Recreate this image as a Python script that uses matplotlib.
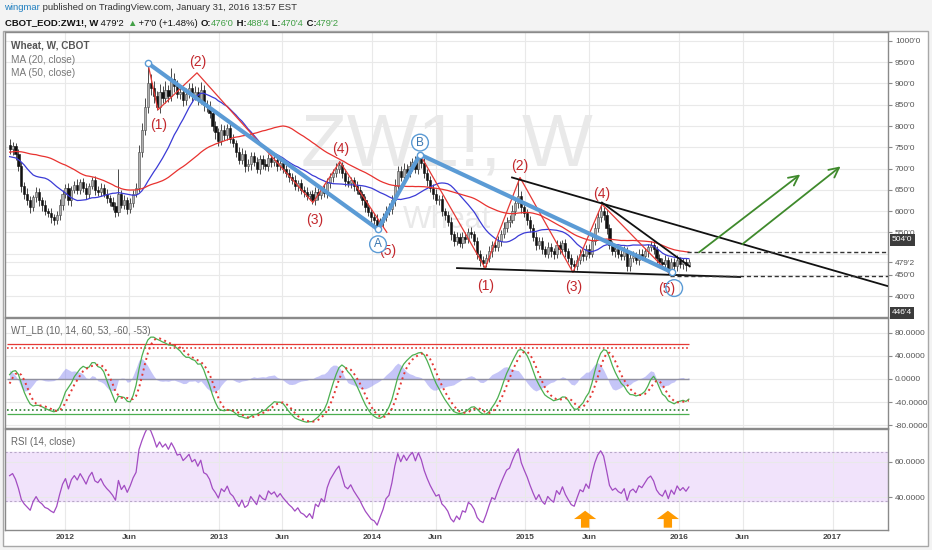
import numpy as np
import pandas as pd
import matplotlib
matplotlib.use('Agg')
import matplotlib.pyplot as plt
import matplotlib.dates as mdates
from matplotlib.patches import Rectangle

plt.rcParams['font.family'] = ['Liberation Sans', 'DejaVu Sans']

# ---- data: weekly wheat futures (CBOT ZW1!), bars dated Monday ----
first_week = '2011-08-22'
closes = [
    745, 752, 735, 705, 660, 640, 625, 610, 632, 645, 625, 615, 600, 595, 585, 578, 590, 615, 640, 655,
    625, 650, 662, 650, 668, 655, 640, 660, 672, 650, 645, 655, 640, 630, 622, 612, 598, 640, 615, 625,
    605, 620, 640, 655, 740, 790, 845, 900, 890, 870, 845, 880, 865, 885, 870, 910, 895, 875, 880, 862,
    875, 890, 870, 880, 862, 885, 850, 845, 830, 800, 785, 765, 790, 780, 795, 770, 760, 740, 720, 735,
    705, 710, 730, 715, 700, 722, 710, 705, 725, 715, 720, 705, 712, 700, 690, 680, 672, 660, 665, 650,
    645, 635, 640, 625, 645, 638, 650, 642, 665, 680, 690, 700, 708, 690, 670, 665, 672, 660, 650, 640,
    625, 610, 598, 585, 580, 565, 575, 585, 600, 605, 625, 660, 695, 680, 700, 690, 705, 715, 700, 725,
    712, 690, 672, 655, 640, 625, 628, 600, 590, 575, 545, 530, 540, 525, 540, 535, 552, 545, 530, 500,
    485, 478, 490, 505, 520, 515, 530, 545, 560, 575, 580, 600, 620, 635, 610, 595, 580, 560, 540, 520,
    530, 510, 500, 515, 505, 498, 520, 510, 525, 505, 490, 475, 470, 485, 500, 495, 510, 500, 530, 560,
    585, 600, 590, 560, 520, 505, 510, 500, 495, 505, 470, 490, 495, 485, 500, 495, 505, 515, 520, 510,
    490, 480, 475, 485, 465, 480, 470, 485, 475, 480, 472.25, 479.25,
]
wick_up = [
    15, 10, 8, 12, 10, 8, 14, 10, 6, 12, 9, 8, 10, 7, 12, 9, 11, 14, 10, 8,
    12, 10, 9, 14, 8, 10, 12, 7, 9, 11, 8, 10, 9, 12, 8, 10, 9, 58, 10, 12,
    9, 11, 10, 12, 15, 18, 20, 48, 22, 15, 12, 18, 14, 20, 12, 26, 15, 12, 16, 10,
    14, 12, 10, 15, 12, 18, 12, 10, 14, 8, 12, 10, 14, 12, 9, 10, 12, 8, 10, 14,
    9, 12, 10, 8, 12, 10, 9, 12, 10, 8, 11, 9, 10, 12, 8, 10, 9, 12, 8, 10,
    9, 11, 8, 10, 12, 9, 10, 14, 12, 10, 9, 12, 10, 8, 10, 12, 9, 8, 10, 9,
    8, 10, 9, 8, 10, 12, 9, 10, 12, 14, 12, 15, 10, 12, 14, 10, 12, 9, 14, 12,
    10, 12, 9, 10, 8, 12, 10, 9, 8, 10, 12, 9, 10, 8, 10, 12, 9, 10, 8, 10,
    9, 10, 8, 12, 10, 9, 12, 10, 14, 12, 10, 15, 14, 40, 12, 10, 9, 8, 10, 12,
    10, 9, 8, 12, 10, 9, 12, 10, 8, 10, 9, 8, 10, 12, 10, 9, 10, 12, 14, 12,
    16, 14, 10, 12, 9, 10, 8, 10, 9, 12, 10, 8, 10, 9, 12, 10, 8, 7, 10, 12,
    8, 10, 9, 12, 8, 10, 9, 12, 8, 10, 9, 9,
]
wick_dn = [
    10, 12, 15, 10, 14, 12, 10, 15, 9, 10, 12, 14, 10, 9, 12, 10, 8, 10, 12, 9,
    10, 12, 8, 10, 11, 9, 12, 10, 8, 12, 9, 10, 8, 12, 10, 9, 12, 10, 8, 10,
    12, 9, 10, 8, 10, 12, 10, 14, 18, 16, 8, 14, 12, 10, 14, 12, 15, 10, 12, 14,
    12, 10, 14, 9, 12, 10, 14, 12, 10, 12, 15, 12, 10, 14, 12, 10, 9, 12, 10, 9,
    12, 10, 14, 9, 10, 12, 11, 9, 10, 12, 8, 10, 9, 11, 10, 12, 9, 10, 12, 10,
    12, 10, 9, 8, 10, 12, 10, 9, 11, 10, 12, 9, 10, 12, 10, 9, 11, 12, 10, 9,
    10, 12, 9, 10, 12, 8, 10, 12, 9, 10, 11, 12, 10, 9, 12, 10, 9, 11, 10, 12,
    10, 12, 14, 10, 12, 9, 10, 12, 10, 11, 14, 12, 10, 9, 12, 10, 11, 9, 10, 12,
    14, 10, 9, 10, 12, 9, 10, 12, 9, 10, 12, 9, 10, 12, 14, 10, 12, 9, 10, 12,
    10, 12, 9, 10, 12, 10, 9, 11, 10, 12, 9, 10, 12, 9, 10, 12, 9, 10, 8, 10,
    9, 10, 12, 14, 10, 9, 12, 10, 9, 11, 10, 12, 9, 10, 12, 9, 10, 12, 9, 10,
    12, 9, 10, 8, 10, 9, 11, 10, 9, 10, 12, 2,
]
# earlier weekly closes (Aug 2010 - Aug 2011), only used to warm up the indicators
warmup_closes = [
    710, 700, 720, 690, 705, 715, 695, 690, 680, 720, 690, 660, 680,
    700, 735, 770, 790, 795, 780, 805, 830, 840, 860, 880, 820, 770,
    710, 740, 730, 760, 780, 765, 790, 775, 780, 800, 760, 770,
    710, 660, 640, 625, 655, 680, 700, 710, 720, 740, 755,
]

# ---- drawings on the chart ----
wave1_dates = ['2012-07-16', '2012-08-09', '2012-11-10', '2013-08-13', '2013-10-16', '2014-02-05']
wave1_prices = [948, 838, 925, 620, 716, 550]
wave1_lbl_dates = ['2012-08-11', '2012-11-13', '2013-08-17', '2013-10-19', '2014-02-06']
wave1_lbl_prices = [803, 951, 578, 745, 505]
wave2_dates = ['2014-04-25', '2014-09-27', '2014-12-19', '2015-04-24', '2015-07-02', '2015-12-11']
wave2_prices = [733, 466, 679, 456, 616, 452]
wave2_lbl_dates = ['2014-09-27', '2014-12-19', '2015-04-26', '2015-07-02', '2015-12-04']
wave2_lbl_prices = [424, 707, 421, 641, 416]
wave_labels = ['(1)', '(2)', '(3)', '(4)', '(5)']
abc_dates = ['2012-07-16', '2014-01-15', '2014-04-25', '2015-12-16']
abc_prices = [948, 557, 733, 456]
circle_labels = ['A', 'B', '']
circle_dates = ['2014-01-15', '2014-04-25', '2015-12-21']
circle_prices = [522, 761, 419]
trend_lines = [
    (('2014-07-22', 466), ('2016-05-26', 445)),
    (('2014-11-30', 679), ('2017-05-11', 424)),
    (('2015-07-02', 620), ('2016-01-27', 470)),
]
level_values = [504, 446.5]
level_starts = ['2016-01-20', '2015-12-11']
green_arrows = [
    (('2016-02-18', 503), ('2016-10-16', 686)),
    (('2016-05-31', 522), ('2017-01-20', 705)),
]
orange_arrow_dates = ['2015-05-23', '2015-12-06']

x_left, x_right = '2011-08-11', '2017-05-13'


def dn(d):
    return mdates.date2num(pd.Timestamp(d))


# ---- indicators ----
dates = pd.date_range(first_week, periods=len(closes), freq='7D')
xd = mdates.date2num(dates)
c = np.array(closes, float)
o = np.r_[warmup_closes[-1], c[:-1]]
hi = np.maximum(o, c) + np.array(wick_up)
lo = np.minimum(o, c) - np.array(wick_dn)
nw = len(warmup_closes)

all_close = pd.Series(list(warmup_closes) + list(c))
ma20 = all_close.rolling(20).mean().values[nw:]
ma50 = all_close.rolling(50).mean().values[nw:]

ap = pd.Series(list(warmup_closes) + list((hi + lo + c) / 3))
esa = ap.ewm(span=10, adjust=False).mean()
dev = (ap - esa).abs().ewm(span=10, adjust=False).mean()
ci = (ap - esa) / (0.015 * dev)
wt1_all = ci.ewm(span=14, adjust=False).mean()
wt2_all = wt1_all.rolling(4).mean()
wt1 = wt1_all.values[nw:]
wt2 = wt2_all.values[nw:]

delta = all_close.diff()
gain = delta.clip(lower=0).ewm(alpha=1 / 14, adjust=False).mean()
loss = (-delta.clip(upper=0)).ewm(alpha=1 / 14, adjust=False).mean()
rsi = (100 - 100 / (1 + gain / loss)).values[nw:]

# ---- figure ----
W, H = 932, 550
fig = plt.figure(figsize=(W / 100, H / 100), dpi=100, facecolor='#f3f3f3')
fig.patches.append(Rectangle((3 / W, 1 - 546 / H), 925 / W, 515 / H, transform=fig.transFigure,
                             facecolor='white', edgecolor='#a8a8a8', lw=1, zorder=-5))


def fx(x):
    return x / W


def fy(y):
    return 1 - y / H


ax_p = fig.add_axes([fx(5), fy(317), 883 / W, 285 / H])
ax_w = fig.add_axes([fx(5), fy(428), 883 / W, 110 / H], sharex=ax_p)
ax_r = fig.add_axes([fx(5), fy(530), 883 / W, 101 / H], sharex=ax_p)

tick_dates = []
tick_labels = []
for yr in range(2012, 2018):
    tick_dates += [dn(f'{yr}-01-01'), dn(f'{yr}-06-01')]
    tick_labels += [str(yr), 'Jun']

for ax in (ax_p, ax_w, ax_r):
    ax.set_facecolor('none')
    for s in ax.spines.values():
        s.set_color('#8a8a8a')
        s.set_linewidth(1)
    ax.yaxis.tick_right()
    ax.tick_params(axis='y', labelsize=6, colors='#555555', length=3, pad=2)
    ax.tick_params(axis='y', color='#8a8a8a')
    ax.set_xticks(tick_dates)
    ax.tick_params(axis='x', length=0)
    ax.grid(True, color='#e9e9e9', lw=0.8)
    ax.set_axisbelow(True)
ax_p.set_xlim(dn(x_left), dn(x_right))
ax_p.tick_params(axis='x', labelbottom=False)
ax_w.tick_params(axis='x', labelbottom=False)
ax_r.set_xticklabels(tick_labels, fontsize=6, color='#444444', fontweight='bold')
ax_r.tick_params(axis='x', pad=3)

# price pane
ax_p.set_ylim(351, 1021)
pticks = [400, 450, 479.25] + list(range(550, 1001, 50))
ax_p.set_yticks(pticks)
ax_p.set_yticklabels([f"{int(v)}'{int(round((v - int(v)) * 8))}" for v in pticks])
ax_p.yaxis.set_minor_locator(matplotlib.ticker.FixedLocator([500]))
ax_p.grid(True, which='minor', axis='y', color='#e9e9e9', lw=0.8)
ax_p.tick_params(axis='y', which='minor', length=0)

ax_p.text(0.5, 0.6, 'ZW1!, W', transform=ax_p.transAxes, ha='center', va='center',
          fontsize=54, color='#e9e9e9', zorder=0)
ax_p.text(0.5, 0.34, 'Wheat', transform=ax_p.transAxes, ha='center', va='center',
          fontsize=22, color='#e9e9e9', zorder=0)

up = c >= o
ax_p.vlines(xd, lo, hi, color='#4a4a4a', lw=0.7, zorder=2)
ax_p.bar(xd[up], (c - o)[up], bottom=o[up], width=5.2, color='#b0b0b0', edgecolor='#4a4a4a', lw=0.4, zorder=3)
ax_p.bar(xd[~up], (o - c)[~up], bottom=c[~up], width=5.2, color='#111111', edgecolor='#111111', lw=0.4, zorder=3)
ax_p.plot(xd, ma20, color='#3b3bd6', lw=0.9, zorder=4)
ax_p.plot(xd, ma50, color='#e8322f', lw=0.9, zorder=4)

red = '#c3282d'
ax_p.plot([dn(d) for d in wave1_dates], wave1_prices, color='#e53935', lw=0.9, zorder=5)
ax_p.plot([dn(d) for d in wave2_dates], wave2_prices, color='#e53935', lw=0.9, zorder=5)
for lbl, d, p in zip(wave_labels, wave1_lbl_dates, wave1_lbl_prices):
    ax_p.text(dn(d), p, lbl, color=red, fontsize=10, ha='center', va='center', zorder=7)
for lbl, d, p in zip(wave_labels, wave2_lbl_dates, wave2_lbl_prices):
    ax_p.text(dn(d), p, lbl, color=red, fontsize=10, ha='center', va='center', zorder=7)

blue = '#5b9bd5'
ax_p.plot([dn(d) for d in abc_dates], abc_prices, color=blue, lw=3, zorder=6, solid_capstyle='round')
ax_p.plot([dn(d) for d in abc_dates], abc_prices, 'o', ms=4.5, mfc='white', mec=blue, mew=1, zorder=7)
for lbl, d, p in zip(circle_labels, circle_dates, circle_prices):
    ax_p.text(dn(d), p, lbl if lbl else ' ', color='#3a76b0', fontsize=8.5, ha='center', va='center', zorder=8,
              bbox=dict(boxstyle='circle,pad=0.2', fc='white' if lbl else 'none', ec=blue, lw=1))

for (d0, p0), (d1, p1) in trend_lines:
    ax_p.plot([dn(d0), dn(d1)], [p0, p1], color='#111111', lw=1.3, zorder=6)
for v, d in zip(level_values, level_starts):
    ax_p.hlines(v, dn(d), dn(x_right), color='#333333', lw=1, linestyles=(0, (3, 2)), zorder=6)
for (d0, p0), (d1, p1) in green_arrows:
    ax_p.annotate('', xy=(dn(d1), p1), xytext=(dn(d0), p0),
                  arrowprops=dict(arrowstyle='->,head_length=0.7,head_width=0.35', color='#3f8a2c', lw=1.3,
                                  shrinkA=0, shrinkB=0), zorder=6)

# WaveTrend pane
ax_w.set_ylim(-84.5, 105)
ax_w.set_yticks([80, 40, 0, -40, -80])
ax_w.set_yticklabels(['80.0000', '40.0000', '0.0000', '-40.0000', '-80.0000'])
xr = [xd[0] - 7, xd[-1]]
ax_w.hlines(60, *xr, color='#e53935', lw=0.9)
ax_w.hlines(53, *xr, color='#e53935', lw=1.2, linestyles=(0, (1, 1.5)))
ax_w.hlines(-60, *xr, color='#4caf50', lw=0.9)
ax_w.hlines(-53, *xr, color='#2e7d32', lw=1.2, linestyles=(0, (1, 1.5)))
ax_w.hlines(0, *xr, color='#9090a0', lw=1)
ax_w.fill_between(xd, 0, wt1 - wt2, color='#8c8cf0', alpha=0.5, lw=0)
ax_w.plot(xd, wt1, color='#4caf50', lw=0.9)
ax_w.plot(xd, wt2, color='#e53935', lw=1.4, ls=(0, (1, 1.8)))

# RSI pane
ax_r.set_ylim(21.7, 78.3)
ax_r.set_yticks([60, 40])
ax_r.set_yticklabels(['60.0000', '40.0000'])
ax_r.axhspan(38, 65.5, color='#f1e3fb', zorder=0)
ax_r.axhline(65.5, color='#b8a8c8', lw=0.8, ls=(0, (2, 2)))
ax_r.axhline(38, color='#b8a8c8', lw=0.8, ls=(0, (2, 2)))
ax_r.plot(xd, rsi, color='#a24cc2', lw=0.9)
for d in orange_arrow_dates:
    ax_r.annotate('', xy=(dn(d), 32.5), xytext=(dn(d), 23.0),
                  arrowprops=dict(arrowstyle='simple,head_length=0.6,head_width=1.6,tail_width=0.6',
                                  fc='#ff9a00', ec='none', mutation_scale=10, shrinkA=0, shrinkB=0))

# pane titles
ax_p.text(fx(11), fy(46), 'Wheat, W, CBOT', transform=fig.transFigure, fontsize=7.2, color='#555555',
          fontweight='bold', va='center')
ax_p.text(fx(11), fy(60), 'MA (20, close)', transform=fig.transFigure, fontsize=7.2, color='#777777', va='center')
ax_p.text(fx(11), fy(73), 'MA (50, close)', transform=fig.transFigure, fontsize=7.2, color='#777777', va='center')
fig.text(fx(11), fy(331), 'WT_LB (10, 14, 60, 53, -60, -53)', fontsize=7, color='#666666', va='center')
fig.text(fx(11), fy(442), 'RSI (14, close)', fontsize=7, color='#666666', va='center')

# price boxes on the scale
for txt, ypx in [("504'0", 240), ("446'4", 313)]:
    fig.text(fx(892), fy(ypx), txt, fontsize=6, color='white', va='center', ha='left',
             bbox=dict(boxstyle='square,pad=0.25', fc='#3c3c3c', ec='none'))

# header
renderer = fig.canvas.get_renderer()


def text_runs(x, y, runs, size):
    for s, color, weight in runs:
        t = fig.text(x, y, s, color=color, fontsize=size, fontweight=weight, va='center', ha='left')
        x = t.get_window_extent(renderer=renderer).x1 / fig.bbox.width


green = '#43a047'
text_runs(fx(4), fy(8), [('wingmar', '#1f7fc0', 'normal'),
                         (' published on TradingView.com, January 31, 2016 13:57 EST', '#333333', 'normal')], 6.8)
text_runs(fx(5), fy(23), [('CBOT_EOD:ZW1!, W', '#111111', 'bold'), (" 479'2 ", '#111111', 'normal'),
                          ('▲', green, 'normal'), (" +7'0 (+1.48%) ", '#111111', 'normal'),
                          ('O:', '#111111', 'bold'), ("476'0", green, 'normal'),
                          (' H:', '#111111', 'bold'), ("488'4", green, 'normal'),
                          (' L:', '#111111', 'bold'), ("470'4", green, 'normal'),
                          (' C:', '#111111', 'bold'), ("479'2", green, 'normal')], 6.8)

fig.savefig('out.png', dpi=100, facecolor=fig.get_facecolor())
